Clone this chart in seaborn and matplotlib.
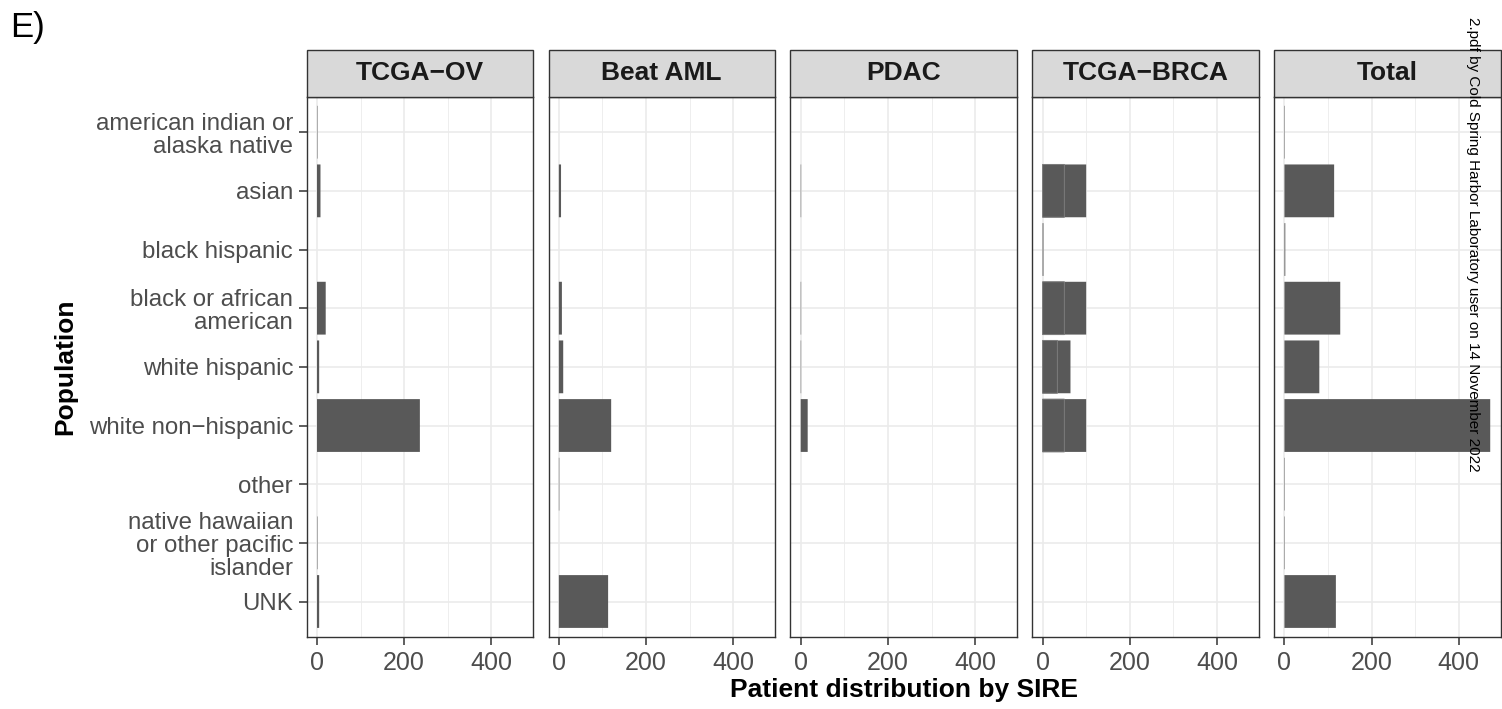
import numpy as np
import pandas as pd
import matplotlib
matplotlib.use("Agg")
import matplotlib.pyplot as plt
from matplotlib.patches import Rectangle
from matplotlib.ticker import FixedLocator
import seaborn as sns

# ---------------- data ----------------
populations = [
    "american indian or\nalaska native",
    "asian",
    "black hispanic",
    "black or african\namerican",
    "white hispanic",
    "white non\u2212hispanic",
    "other",
    "native hawaiian\nor other pacific\nislander",
    "UNK",
]
cohorts = ["TCGA\u2212OV", "Beat AML", "PDAC", "TCGA\u2212BRCA", "Total"]

tcga_ov = [1, 8, 0, 20, 5, 236, 0, 1, 5]
beat_aml = [0, 5, 0, 7, 10, 120, 1, 0, 113]
pdac = [0, 1, 0, 1, 1, 16, 0, 0, 0]
tcga_brca_part1 = [0, 50, 2, 50, 34, 50, 0, 0, 0]
tcga_brca_part2 = [0, 50, 0, 50, 30, 50, 0, 0, 0]
total = [1, 114, 2, 128, 80, 472, 1, 1, 118]

x_ticks = [0, 200, 400]
x_minor = [100, 300]

x_title = "Patient distribution by SIRE"
y_title = "Population"
panel_tag = "E)"
watermark = "2.pdf by Cold Spring Harbor Laboratory user on 14 November 2022"

# ---------------- style ----------------
sns.set_theme(style="white")
plt.rcParams["font.family"] = ["Liberation Sans", "DejaVu Sans"]

W, H = 1502, 709
fig, axes = plt.subplots(1, 5, figsize=(W / 100, H / 100), dpi=100, sharey=True)
fig.subplots_adjust(left=306.7 / W, right=1500.5 / W, bottom=1 - 636.7 / H,
                    top=1 - 97 / H, wspace=0.0685)

bar_color = "#595959"
grid_col = "#EBEBEB"
border_col = "#333333"

series = {
    cohorts[0]: [tcga_ov],
    cohorts[1]: [beat_aml],
    cohorts[2]: [pdac],
    cohorts[3]: [tcga_brca_part1, tcga_brca_part2],
    cohorts[4]: [total],
}

xmax = max(total)
xlim = (-0.05 * xmax, 1.05 * xmax)

for i, (ax, name) in enumerate(zip(axes, cohorts)):
    parts = series[name]
    stacked = np.sum(np.array(parts), axis=0)
    df_full = pd.DataFrame({"population": populations, "count": stacked})
    sns.barplot(data=df_full, x="count", y="population", order=populations,
                color=bar_color, saturation=1, width=0.9, linewidth=0,
                snap=False, ax=ax, zorder=3)
    if len(parts) > 1:
        # first stacked segment, only where a second segment follows it
        df_p1 = pd.DataFrame({"population": populations, "count": parts[0],
                              "next": parts[1]})
        df_p1 = df_p1[df_p1["next"] > 0]
        sns.barplot(data=df_p1, x="count", y="population", order=populations,
                    color=bar_color, saturation=1, width=0.9, linewidth=0.7,
                    edgecolor="#7d7d7d", snap=False, ax=ax, zorder=4)

    ax.set_xlim(*xlim)
    ax.set_ylim(len(populations) - 0.4, -0.6)
    ax.xaxis.set_major_locator(FixedLocator(x_ticks))
    ax.xaxis.set_minor_locator(FixedLocator(x_minor))
    ax.set_xticks(x_ticks)
    ax.set_xticklabels([str(t) for t in x_ticks])

    ax.set_axisbelow(True)
    ax.grid(True, which="major", axis="both", color=grid_col, linewidth=1.2, zorder=0)
    ax.grid(True, which="minor", axis="x", color=grid_col, linewidth=0.6, zorder=0)
    ax.set_facecolor("white")
    for sp in ax.spines.values():
        sp.set_visible(True)
        sp.set_color(border_col)
        sp.set_linewidth(1.0)

    ax.set_xlabel("")
    ax.set_ylabel("")
    ax.tick_params(axis="x", which="major", length=5.5, width=1.1, color=border_col,
                   labelsize=18, labelcolor="#4D4D4D", pad=4.5, bottom=True)
    ax.tick_params(axis="x", which="minor", length=0)
    if i == 0:
        ax.tick_params(axis="y", length=5.5, width=1.1, color=border_col,
                       labelsize=17.3, labelcolor="#4D4D4D", pad=4.3, left=True)
        for lab in ax.get_yticklabels():
            lab.set_linespacing(1.05)
            lab.set_horizontalalignment("right")
            lab.set_multialignment("right")
    else:
        ax.tick_params(axis="y", left=False, labelleft=False)

    # facet strip
    strip_h = 47 / (636.7 - 97)
    rect = Rectangle((0, 1), 1, strip_h, transform=ax.transAxes,
                     facecolor="#D9D9D9", edgecolor=border_col, linewidth=1.0,
                     clip_on=False, zorder=5)
    ax.add_patch(rect)
    ax.text(0.5, 1 + strip_h / 2, name, transform=ax.transAxes, ha="center",
            va="center", fontsize=19, fontweight="bold", color="#1A1A1A", zorder=6)

fig.text(903.6 / W, 1 - 690 / H, x_title, ha="center", va="center",
         fontsize=19, fontweight="bold", color="black")
fig.text(65 / W, 1 - 367 / H, y_title, ha="center", va="center", rotation=90,
         fontsize=19, fontweight="bold", color="black")
fig.text(10 / W, 1 - 27 / H, panel_tag, ha="left", va="center", fontsize=25,
         color="black")
fig.text(1473.5 / W, 1 - 472 / H, watermark, ha="center", va="bottom",
         rotation=270, fontsize=11, color="black", zorder=10)

fig.savefig("out.png", dpi=100, facecolor="white")
